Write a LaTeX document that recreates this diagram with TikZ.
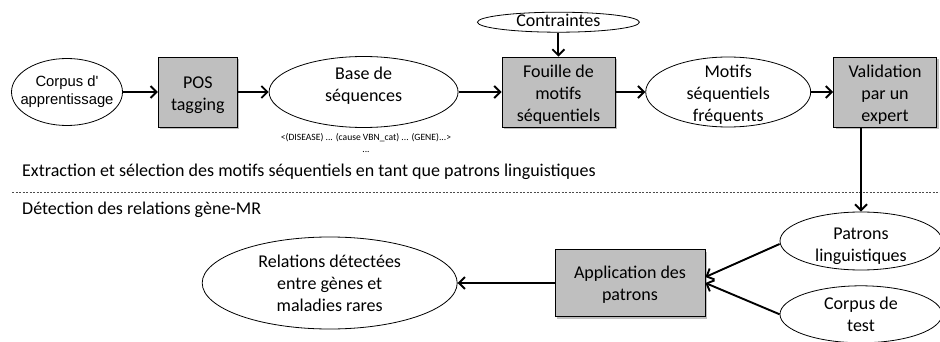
\documentclass[tikz,border=0pt]{standalone}
\usepackage{fontspec}
\setmainfont{Carlito}
\newfontfamily\arialfont{Liberation Sans}
\usetikzlibrary{arrows.meta,positioning,shapes.geometric,shadows}
\definecolor{graybox}{HTML}{BFBFBF}
% texte centre sans agrandir la forme (decalage vers le bas en option)
\newcommand{\ovaltext}[2][2pt]{\smash{\makebox[0pt]{\raisebox{\dimexpr-0.25em-#1\relax}{\begin{tabular}{@{}c@{}}#2\end{tabular}}}}}
\tikzset{
  box/.style={draw=black,fill=graybox,line width=0.8pt,inner sep=0pt,
    font=\fontsize{18}{22}\selectfont,
    drop shadow={shadow xshift=2pt,shadow yshift=-2pt,fill=black,opacity=0.25}},
  oval/.style={draw=black,ellipse,line width=0.8pt,inner sep=0pt,
    font=\fontsize{18}{22}\selectfont},
  arrow/.style={-{Straight Barb[length=6pt,width=12pt]},line width=1.9pt}
}
\begin{document}
\begin{tikzpicture}[x=1pt,y=-1pt]
  \useasboundingbox (0,0) rectangle (940,342);
  % extraction des patrons
  \node[oval,minimum width=111pt,minimum height=67pt,
    font=\arialfont\fontsize{14.8}{17.5}\selectfont] (corpus) at (67,92) {\ovaltext[0pt]{Corpus d'\\apprentissage}};
  \node[box,minimum width=79pt,minimum height=70pt,right=35pt of corpus] (pos) {\ovaltext[3pt]{POS\\tagging}};
  \node[oval,minimum width=189pt,minimum height=71pt,right=31pt of pos] (base) {\ovaltext[-6pt]{Base de\\séquences}};
  \node[box,minimum width=113pt,minimum height=70pt,right=43pt of base] (fouille) {\ovaltext[3pt]{Fouille de\\motifs\\séquentiels}};
  \node[oval,minimum width=162pt,minimum height=20pt,above=24pt of fouille] (contr) {\ovaltext[0pt]{Contraintes}};
  \node[oval,minimum width=165pt,minimum height=70pt,right=30pt of fouille] (motifs) {\ovaltext[3pt]{Motifs\\séquentiels\\fréquents}};
  \node[box,minimum width=103pt,minimum height=70pt,right=22pt of motifs] (valid) {\ovaltext[3pt]{Validation\\par un\\expert}};
  \node[font=\fontsize{9.6}{12}\selectfont,align=center,anchor=north] (seq) at (366,130)
    {<(DISEASE) ... (cause VBN\_cat) ... (GENE)...>\\...};
  % separation des deux etapes
  \node[anchor=west,font=\fontsize{18}{22}\selectfont,inner sep=0pt] (etape1) at (22,172)
    {Extraction et sélection des motifs séquentiels en tant que patrons linguistiques};
  \node[anchor=west,font=\fontsize{18}{22}\selectfont,inner sep=0pt] (etape2) at (22,210)
    {Détection des relations gène-MR};
  \coordinate (sepa) at (12,192);
  \coordinate (sepb) at (940,192);
  \draw[dashed,dash pattern=on 2pt off 1.5pt,line width=0.7pt,black!70] (sepa) -- (sepb);
  % detection des relations
  \node[oval,minimum width=162pt,minimum height=58pt] (patrons) at (861,241) {\ovaltext[5pt]{Patrons\\linguistiques}};
  \node[oval,minimum width=162pt,minimum height=57pt,below=15pt of patrons] (test) {\ovaltext{Corpus de\\test}};
  \node[box,minimum width=150pt,minimum height=67pt] (appli) at (630,283) {\ovaltext{Application des\\patrons}};
  \node[oval,minimum width=255pt,minimum height=92pt,left=97pt of appli] (rel)
    {\ovaltext{Relations détectées\\entre gènes et\\maladies rares}};

  \draw[arrow] (corpus) -- (pos);
  \draw[arrow] (pos) -- (base);
  \draw[arrow] (base) -- (fouille);
  \draw[arrow] (contr) -- (fouille);
  \draw[arrow] (fouille) -- (motifs);
  \draw[arrow] (motifs) -- (valid);
  \draw[arrow] (patrons.north |- valid.south) -- (patrons.north);
  \draw[arrow] ([yshift=-3pt]patrons.west) -- ([yshift=6pt]appli.east);
  \draw[arrow] (test.west) -- (appli.east);
  \draw[arrow] (appli) -- (rel);
\end{tikzpicture}
\end{document}
